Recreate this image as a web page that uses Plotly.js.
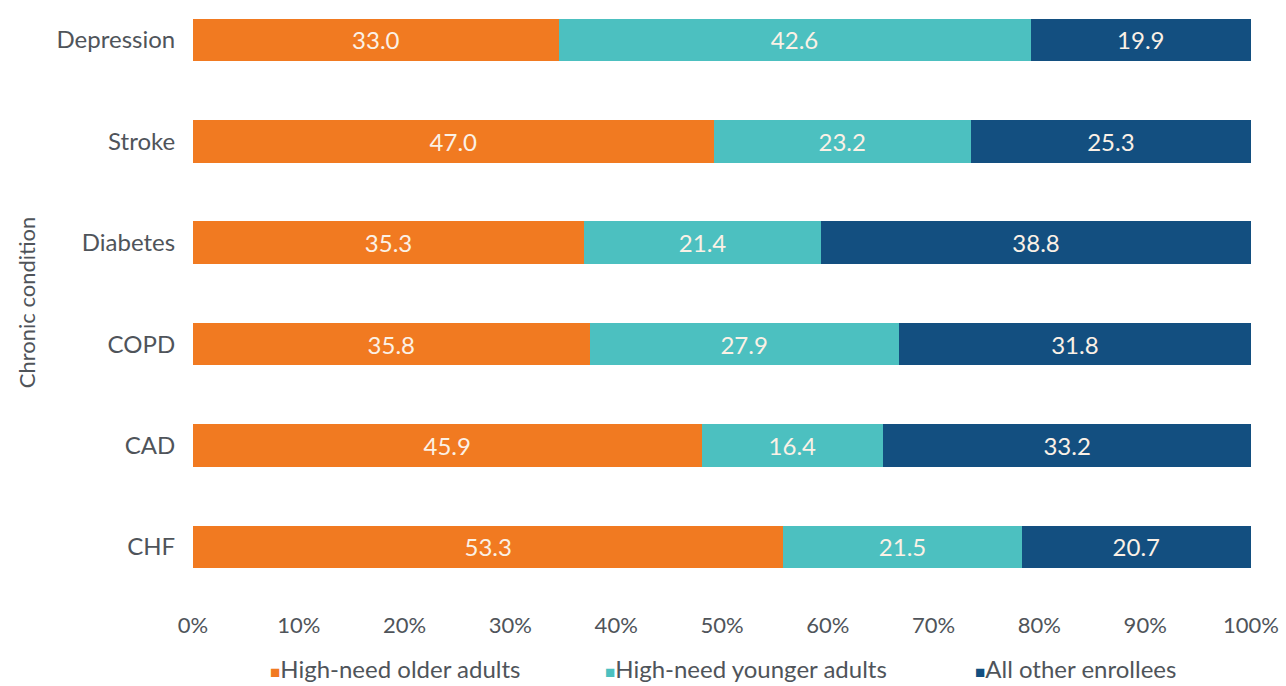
<!DOCTYPE html>
<html>
<head>
<meta charset="utf-8">
<script src="https://cdn.plot.ly/plotly-3.0.1.min.js"></script>
<style>html,body{margin:0;padding:0;background:#fff;}#chart{width:1286px;height:686px;}</style>
</head>
<body>
<div id="chart"></div>
<script>
const categories = ["CHF", "CAD", "COPD", "Diabetes", "Stroke", "Depression"];
const olderAdults = [53.3, 45.9, 35.8, 35.3, 47.0, 33.0];
const youngerAdults = [21.5, 16.4, 27.9, 21.4, 23.2, 42.6];
const otherEnrollees = [20.7, 33.2, 31.8, 38.8, 25.3, 19.9];
const seriesNames = ["High-need older adults", "High-need younger adults", "All other enrollees"];
const seriesColors = ["#F17A21", "#4CC0C0", "#134F80"];
const xTickVals = [0, 10, 20, 30, 40, 50, 60, 70, 80, 90, 100];
const xTickText = ["0%", "10%", "20%", "30%", "40%", "50%", "60%", "70%", "80%", "90%", "100%"];

const font = "Lato, Open Sans, sans-serif";
const textColor = "#4f545a";
const allSeries = [olderAdults, youngerAdults, otherEnrollees];
const traces = allSeries.map((vals, i) => ({
  type: "bar",
  orientation: "h",
  y: categories,
  x: vals,
  name: seriesNames[i],
  marker: {color: seriesColors[i]},
  text: vals.map(v => v.toFixed(1)),
  textposition: "inside",
  insidetextanchor: "middle",
  textangle: 0,
  constraintext: "none",
  textfont: {color: "#FBF1E6", size: 24, family: font},
  hoverinfo: "none",
  showlegend: false
}));

// custom legend (small squares close to text, as in the reference)
const legendX = [0.071, 0.3875, 0.737];
const annotations = seriesNames.map((n, i) => ({
  xref: "paper", yref: "paper",
  x: legendX[i], xanchor: "left",
  y: -0.115, yanchor: "middle",
  showarrow: false,
  text: '<span style="color:' + seriesColors[i] + ';font-size:17px">■</span>' + n,
  font: {size: 24, color: textColor, family: font}
}));

const layout = {
  width: 1286, height: 686,
  barmode: "stack",
  barnorm: "percent",
  bargap: 0.58,
  margin: {l: 193, r: 35, t: 5, b: 86},
  paper_bgcolor: "#ffffff",
  plot_bgcolor: "#ffffff",
  font: {family: font, color: textColor},
  showlegend: false,
  annotations: annotations,
  xaxis: {
    range: [0, 100],
    tickvals: xTickVals,
    ticktext: xTickText,
    showgrid: false, zeroline: false, showline: false,
    tickfont: {size: 22, color: textColor},
    ticks: "outside", ticklen: 6, tickcolor: "rgba(0,0,0,0)",
    fixedrange: true
  },
  yaxis: {
    range: [-0.523, 5.345],
    showgrid: false, zeroline: false, showline: false,
    tickfont: {size: 24, color: textColor},
    ticks: "outside", ticklen: 12, tickcolor: "rgba(0,0,0,0)",
    title: {text: "Chronic condition", font: {size: 22, color: textColor}, standoff: 14},
    fixedrange: true
  }
};

Plotly.newPlot("chart", traces, layout, {displayModeBar: false, staticPlot: true});
</script>
</body>
</html>
